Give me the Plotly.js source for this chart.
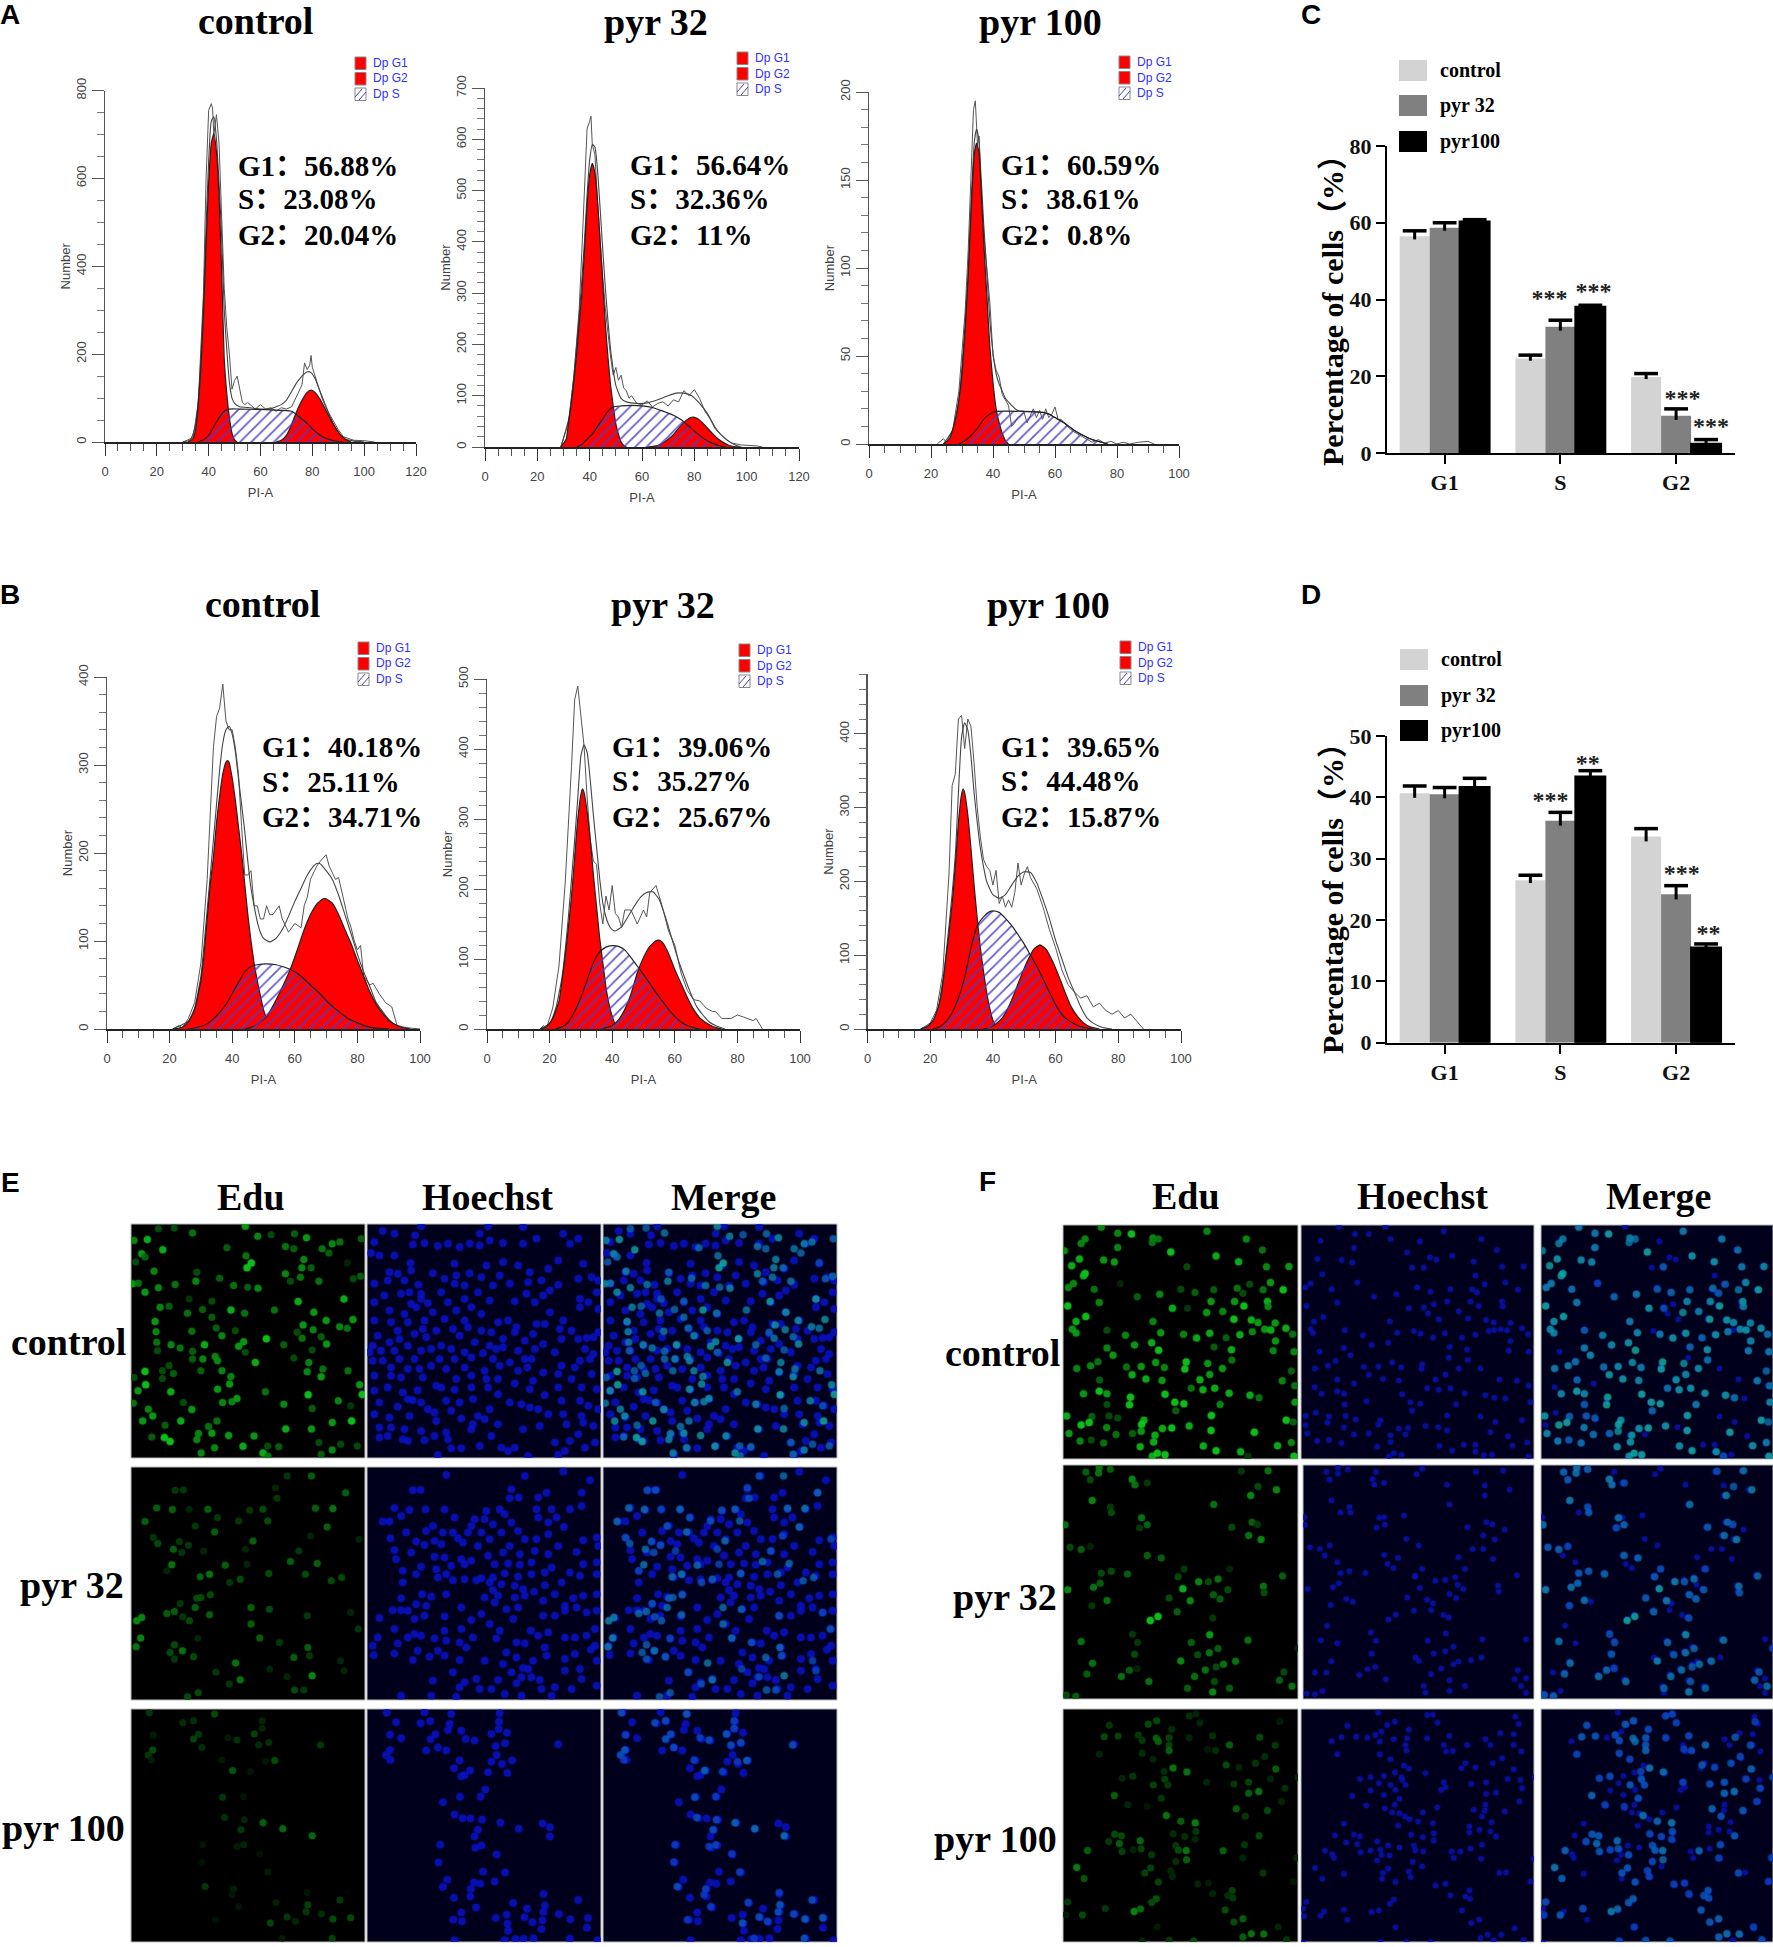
<!DOCTYPE html>
<html>
<head>
<meta charset="utf-8">
<script src="https://cdn.plot.ly/plotly-3.0.1.min.js"></script>
<style>html,body{margin:0;padding:0;background:#fff}</style>
</head>
<body>
<div id="chart" style="width:1773px;height:1947px"></div>
<script>
// ---- flow cytometry histograms, [PI-A, number] ----
var a1G1 = [[32,0],[34,8],[35,30],[36,85],[37,170],[38,290],[39,450],[40,590],[41,680],[42,702],[43,660],[44,560],[45,390],[46,190],[47,110],[48,55],[49,20],[50,5],[51,0]];
var a1G2 = [[66,0],[68,4],[70,15],[72,40],[74,70],[76,95],[78,113],[79.5,118],[81,113],[83,97],[85,75],[87,52],[89,32],[91,15],[93,5],[95,0]];
var a1S = [[36,0],[38,5],[40,15],[42,35],[44,55],[46,70],[48,75],[52,75],[60,74],[68,72],[72,70],[74,62],[76,52],[78,42],[80,30],[82,20],[84,12],[86,7],[88,3],[90,1],[92,0]];
var a1Fit = [[30,0],[33,5],[35,40],[36,95],[37,190],[38,320],[39,490],[40,640],[41,730],[42,740],[43,690],[44,590],[45,470],[46,300],[47,210],[48,135],[49,100],[50,88],[52,80],[56,78],[60,75],[64,76],[68,85],[70,95],[72,115],[74,135],[76,150],[78,160],[79.5,158],[81,145],[83,115],[85,85],[87,55],[89,30],[91,15],[93,6],[96,2],[100,0]];
var a1Raw = [[30,0],[34,10],[36,90],[38,340],[39,600],[40,755],[41,770],[41.5,760],[42,700],[43,745],[44,680],[45,520],[46,350],[47,260],[48,200],[49,120],[50,140],[51,150],[52,115],[53,90],[54,85],[55,90],[56,85],[58,75],[60,85],[62,75],[64,78],[66,70],[68,78],[70,75],[72,80],[74,105],[76,130],[77,180],[78,165],[79,175],[79.5,197],[80,170],[82,130],[84,95],[86,70],[88,50],[90,28],[92,12],[94,8],[96,4],[100,3],[102,2],[104,0]];

var a2G1 = [[29,0],[31,15],[32,50],[33,85],[34,130],[35,180],[36,240],[37,300],[38,380],[39,470],[40,530],[41,553],[42,535],[43,480],[44,400],[45,320],[46,240],[47,175],[48,120],[49,80],[50,45],[51,25],[52,10],[53,3],[54,0]];
var a2G2 = [[62,0],[66,3],[68,8],[70,15],[72,24],[74,37],[76,48],[78,56],[79,58],[81,56],[83,48],[85,37],[87,26],[89,16],[91,9],[93,4],[95,1],[97,0]];
var a2S = [[35,0],[37,5],[39,15],[41,25],[43,40],[45,55],[47,70],[49,78],[52,80],[56,81],[60,80],[64,77],[68,70],[72,62],[75,53],[78,40],[81,27],[84,15],[87,7],[90,2],[92,0]];
var a2Fit = [[29,0],[32,55],[34,140],[36,255],[38,400],[39,490],[40,560],[41,590],[42,585],[43,540],[44,465],[45,385],[46,310],[47,245],[48,190],[49,150],[50,120],[52,95],[54,88],[58,85],[62,86],[66,92],[70,100],[73,105],[76,105],[79,100],[82,85],[85,65],[88,38],[90,25],[93,12],[96,3],[98,0]];
var a2Raw = [[29,0],[32,50],[34,140],[36,270],[37,380],[38,500],[39,620],[40,635],[40.5,645],[41,590],[42,570],[43,480],[44,400],[45,330],[46,270],[47,220],[48,175],[49,140],[50,155],[51,130],[52,140],[53,115],[54,110],[55,95],[56,100],[58,85],[60,82],[62,90],[64,78],[66,85],[68,88],[70,80],[72,92],[74,88],[76,110],[78,100],[80,112],[82,95],[84,70],[86,55],[88,35],[90,25],[92,15],[94,8],[98,4],[104,2],[106,0]];

var a3G1 = [[24,0],[26,3],[27,8],[28,15],[29,25],[30,40],[31,65],[32,95],[33,135],[34,165],[34.7,171],[35.5,165],[36,150],[37,115],[38,85],[39,55],[40,35],[41,20],[42,12],[43,6],[44,2],[45,0]];
var a3G2 = [];
var a3S = [[29,0],[31,2],[33,5],[35,9],[37,14],[39,17],[41,18.5],[50,18.5],[56,18],[58,17],[60,15],[63,12],[66,8],[69,5],[72,2.5],[75,1],[77,0]];
var a3Fit = [[24,0],[27,8],[29,25],[31,68],[32,98],[33,140],[34,172],[34.7,179],[35.5,172],[36,157],[37,125],[38,98],[39,70],[40,52],[41,40],[42,34],[43,30],[44,26],[46,22],[48,19],[50,18.5],[56,18],[58,17],[60,15],[63,12],[66,8],[69,5],[72,2.5],[75,1],[77,0]];
var a3Raw = [[22,0],[24,3],[25,1],[27,8],[29,30],[31,75],[32,110],[33,160],[33.7,190],[34.3,195],[35,170],[35.5,175],[36,150],[37,120],[38,100],[39,80],[40,50],[41,42],[42,38],[43,28],[44,25],[45,22],[46,10],[47,12],[48,15],[49,16],[50,18],[51,12],[52,16],[53,20],[54,15],[55,19],[56,14],[57,20],[58,15],[59,17],[60,21],[61,14],[62,14],[64,10],[66,7],[68,5],[70,3],[72,1],[74,2.5],[76,0.5],[78,1.5],[80,0],[82,1],[84,0],[87,1],[90,1.5],[92,0]];

var b1G1 = [[21,0],[24,2],[26,8],[28,22],[30,55],[31,85],[32,125],[33,165],[34,195],[35,235],[36,265],[37,290],[38,303],[38.5,305],[39,303],[40,285],[41,260],[42,230],[43,200],[44,165],[45,130],[46,100],[47,75],[48,55],[49,38],[50,22],[51,12],[52,6],[53,2],[55,0]];
var b1G2 = [[44,0],[47,3],[49,8],[51,14],[53,26],[55,40],[57,55],[59,72],[61,92],[63,113],[65,130],[67,142],[69,148],[70,148],[72,143],[74,130],[76,113],[78,97],[80,78],[82,60],[84,42],[86,28],[88,18],[90,10],[92,5],[94,2],[97,0]];
var b1S = [[26,0],[29,2],[32,6],[35,15],[38,28],[40,40],[42,53],[44,65],[46,71],[48,73],[51,74],[54,73],[56,71],[59,67],[62,60],[65,50],[68,40],[71,29],[74,20],[77,12],[80,7],[83,3],[86,1],[90,0]];
var b1Fit = [[21,0],[26,9],[28,24],[30,60],[32,135],[34,215],[36,295],[37,325],[38,340],[39,344],[40,335],[41,315],[42,285],[43,255],[44,225],[45,190],[46,160],[47,140],[48,122],[49,110],[50,103],[52,99],[54,103],[56,113],[58,128],[60,145],[62,160],[64,175],[66,185],[67,188],[68,188],[70,180],[72,170],[74,152],[76,130],[78,108],[80,85],[82,65],[84,48],[86,30],[88,20],[90,11],[92,5],[95,2],[100,0]];
var b1Raw = [[21,0],[23,4],[24,1],[26,12],[28,30],[30,75],[32,170],[34,320],[35,355],[36,365],[37,392],[38,350],[39,340],[40,340],[41,320],[42,290],[43,230],[44,175],[45,175],[46,180],[47,140],[48,140],[49,125],[50,125],[51,140],[52,130],[53,130],[55,140],[56,125],[58,110],[60,120],[62,115],[63,140],[64,150],[65,170],[67,185],[68,190],[70,198],[71,185],[73,170],[74,172],[75,155],[76,142],[77,125],[78,115],[79,100],[80,90],[81,95],[82,60],[84,50],[85,52],[87,40],[89,30],[91,25],[93,0]];

var b2G1 = [[17,0],[19,3],[21,15],[23,40],[24,70],[25,105],[26,145],[27,190],[28,245],[29,300],[30,335],[30.5,343],[31,338],[32,310],[33,270],[34,220],[35,175],[36,130],[37,95],[38,60],[39,35],[40,18],[41,7],[42,2],[43,0]];
var b2G2 = [[36,0],[38,2],[40,5],[42,13],[44,28],[46,50],[48,80],[50,102],[52,118],[54,126],[55,127],[56,124],[58,108],[60,85],[62,65],[64,45],[66,28],[68,16],[70,9],[72,4],[75,0]];
var b2S = [[22,0],[24,3],[26,10],[28,25],[30,45],[32,70],[34,95],[36,110],[38,117],[40,119],[42,118],[44,113],[46,102],[48,90],[50,78],[52,65],[54,52],[56,40],[58,28],[60,18],[62,10],[64,5],[66,2],[68,0]];
var b2Fit = [[17,0],[20,8],[22,30],[24,75],[26,160],[28,270],[29,330],[30,390],[31,406],[32,395],[33,355],[34,305],[35,260],[36,215],[37,180],[38,160],[39,148],[40,142],[41,140],[43,146],[45,160],[47,175],[49,188],[51,195],[53,196],[55,185],[57,160],[59,130],[61,100],[63,75],[65,52],[67,32],[69,20],[71,10],[73,5],[76,0]];
var b2Raw = [[17,0],[18,5],[19,1],[21,30],[23,90],[25,210],[27,375],[28,470],[29,490],[30,450],[31,405],[32,330],[33,270],[34,240],[35,235],[36,180],[37,150],[38,190],[39,170],[40,205],[41,165],[42,160],[43,145],[44,170],[46,170],[48,150],[50,170],[51,160],[52,195],[54,205],[55,190],[56,175],[58,140],[60,120],[62,80],[64,55],[66,42],[68,40],[70,30],[72,25],[73,25],[75,15],[78,15],[80,20],[82,17],[85,12],[86,15],[88,0]];

var b3G1 = [[17,0],[19,3],[21,12],[23,35],[24,60],[25,95],[26,130],[27,170],[28,220],[29,280],[30,318],[30.5,325],[31,320],[32,290],[33,245],[34,195],[35,150],[36,110],[37,78],[38,50],[39,28],[40,12],[41,4],[42,0]];
var b3G2 = [[37,0],[39,2],[41,7],[43,15],[45,30],[47,50],[49,72],[51,92],[53,108],[55,114],[57,108],[59,92],[61,72],[63,50],[65,30],[67,17],[69,8],[71,3],[74,0]];
var b3S = [[21,0],[23,3],[25,10],[27,22],[29,42],[31,70],[33,110],[35,140],[37,152],[39,159],[40,160],[42,158],[44,150],[46,140],[48,128],[50,115],[52,100],[54,85],[56,68],[58,50],[60,33],[62,20],[64,12],[66,7],[68,3],[72,0]];
var b3Fit = [[17,0],[20,6],[22,20],[24,65],[26,140],[28,235],[29,320],[30,395],[31,415],[32,405],[33,370],[34,320],[35,280],[36,245],[37,220],[38,200],[39,190],[40,182],[42,177],[44,182],[46,195],[48,207],[50,213],[52,212],[54,198],[56,175],[58,150],[60,120],[62,95],[64,70],[66,50],[68,30],[70,15],[72,8],[75,2],[78,0]];
var b3Raw = [[17,0],[20,8],[22,25],[24,75],[26,210],[27,330],[28,345],[29,420],[30,425],[31,380],[32,420],[33,410],[34,360],[35,300],[36,260],[37,230],[38,220],[39,215],[40,195],[41,215],[42,170],[43,180],[44,165],[45,175],[46,165],[47,185],[48,225],[49,195],[50,210],[51,220],[52,205],[54,190],[56,165],[58,135],[60,110],[62,80],[64,60],[66,50],[68,42],[70,45],[72,30],[74,35],[76,25],[78,20],[80,25],[82,15],[84,20],[86,10],[88,0]];

var peakMarksA1 = [[41,-17],[79,-17]];
var peakMarksA2 = [[41,-16]];
var peakMarksA3 = [[34,-4]];

// ---- bar charts ----
var phaseNames = ["G1", "S", "G2"];
var phasePositions = [0, 1, 2];
var groupNames = ["control", "pyr 32", "pyr100"];
var cControl = [56.5, 24.6, 19.8];
var cPyr32 = [58.7, 32.9, 9.7];
var cPyr100 = [60.3, 38.1, 2.4];
var cControlErr = [1.4, 0.9, 0.9];
var cPyr32Err = [1.3, 1.7, 1.8];
var cPyr100Err = [0.5, 0.4, 1.1];
var cStarsX = [0.906, 1.286, 2.055, 2.302];
var cStarsY = [39.9, 41.6, 13.8, 6.4];
var cStarsText = ["***", "***", "***", "***"];
var dControl = [40.65, 26.5, 33.6];
var dPyr32 = [40.5, 36.2, 24.2];
var dPyr100 = [41.7, 43.4, 15.5];
var dControlErr = [1.2, 0.8, 1.3];
var dPyr32Err = [1.1, 1.35, 1.4];
var dPyr100Err = [1.4, 0.95, 0.6];
var dStarsX = [0.915, 1.237, 2.049, 2.279];
var dStarsY = [39.2, 45.2, 27.3, 17.6];
var dStarsText = ["***", "**", "***", "**"];

// ---- microscopy fields, nuclei as [x, y, intensity] in crop units (700 = panel width) ----
var eEdu1 = [[12,50,.7],[52,47,.9],[85,15,.4],[132,13,.4],[187,28,.6],[345,8,.8],[382,38,.7],[422,33,.4],[492,30,.5],[528,42,.8],[465,68,.6],[490,75,.5],[575,75,.6],[605,60,.7],[628,55,.6],[692,45,.5],[595,88,.5],[35,90,.8],[98,78,.9],[45,100,.5],[17,115,.4],[72,142,.7],[290,72,.5],[347,96,.6],[350,132,1],[363,118,1],[520,107,.7],[514,132,.7],[542,132,.5],[465,150,.7],[510,160,.6],[650,117,.2],[690,157,.5],[668,165,.4],[8,180,.8],[25,178,.6],[85,192,.7],[135,182,.6],[197,172,.7],[200,145,.4],[268,163,.5],[310,185,.6],[352,190,.5],[383,193,.7],[480,172,.4],[565,172,.6],[45,205,.8],[640,225,.9],[503,233,.9],[245,232,.4],[177,225,.3],[90,250,.7],[117,247,.5],[172,268,.6],[217,257,.5],[302,258,.9],[343,268,.6],[432,258,.6],[550,265,.8],[245,280,.5],[75,293,.8],[587,290,.8],[667,287,.8],[518,303,.8],[548,317,.7],[627,308,.7],[650,313,.6],[78,323,.7],[185,322,.6],[258,312,.5],[315,320,.4],[408,344,1],[275,335,.7],[340,353,.8],[325,367,.8],[500,325,.4],[515,343,.6],[572,338,.5],[588,360,.8],[80,355,.6],[123,362,.7],[150,372,.6],[223,362,.9],[460,362,.5],[345,385,.4],[187,382,.5],[82,380,.4],[255,397,.7],[262,410,.7],[218,405,.7],[187,405,.5],[375,415,.9],[490,402,.4],[535,415,.7],[545,378,.4],[45,442,1],[97,440,.4],[130,448,.5],[117,424,.4],[212,440,.5],[275,440,.7],[530,443,.7],[577,435,.6],[652,440,.6],[572,458,.8],[97,463,.4],[302,457,.7],[298,480,.8],[47,482,1],[12,460,.4],[687,482,.8],[262,495,.8],[24,500,.8],[122,503,.9],[405,503,.6],[533,512,1],[695,511,1],[320,523,.8],[305,533,.7],[277,535,.7],[623,530,.7],[10,537,.6],[460,540,.7],[160,535,.4],[660,545,.3],[55,555,.7],[185,556,.8],[545,553,.5],[68,575,.8],[260,590,.6],[38,590,.8],[152,590,.9],[105,603,.5],[605,595,.8],[663,590,1],[466,614,.9],[543,614,.8],[235,607,.6],[205,628,.7],[245,627,.8],[295,634,.8],[371,635,.8],[65,638,.5],[103,640,1],[120,652,1],[200,646,.7],[253,670,.7],[338,666,.9],[605,677,.7],[412,665,.4],[445,667,.5],[565,655,.4],[630,660,.4],[213,686,.7],[398,686,.9],[413,695,.6],[572,690,.5],[680,665,.4]];
var eHoechst1 = [[755,22],[790,30],[852,35],[845,62],[880,58],[920,67],[950,60],[985,70],[1015,60],[1045,65],[1075,50],[1115,58],[1175,60],[1215,45],[1295,30],[1315,60],[1340,45],[1045,30],[870,8],[1070,8],[1175,10],[730,55],[720,88],[745,95],[790,95],[838,118],[840,140],[905,148],[970,120],[1015,148],[1065,125],[1115,115],[1160,125],[1195,145],[1250,135],[1280,110],[1355,120],[775,145],[800,150],[730,180],[770,170],[862,183],[820,170],[940,165],[975,155],[1050,160],[1105,155],[1190,175],[1230,170],[1280,183],[1340,165],[1380,160],[1400,170],[760,215],[810,210],[835,205],[870,210],[930,205],[970,180],[1000,185],[1040,205],[1085,185],[1135,180],[1185,210],[1255,200],[1345,225],[1395,205],[840,240],[855,250],[890,238],[870,225],[730,235],[950,235],[1000,225],[1075,230],[1150,232],[1210,235],[1235,215],[1345,250],[1370,235],[1400,255],[775,260],[820,270],[905,265],[975,260],[1020,250],[1050,270],[1100,295],[1130,290],[1255,265],[1295,290],[730,290],[780,295],[830,295],[880,290],[940,285],[1000,290],[1155,310],[1215,300],[1240,300],[1285,315],[1320,320],[740,335],[800,320],[850,330],[875,315],[915,320],[965,315],[1010,310],[1050,320],[1080,325],[1115,345],[1150,325],[1205,330],[1340,345],[1385,340],[1365,342],[725,365],[775,355],[805,345],[830,365],[885,340],[930,365],[985,335],[1030,355],[1075,365],[1115,370],[1180,350],[1235,360],[1290,345],[1400,325],[715,385],[750,380],[790,380],[870,380],[900,375],[960,375],[1000,385],[1055,388],[1095,375],[1160,380],[1210,375],[1270,385],[1360,375],[1385,390],[725,410],[755,410],[805,405],[850,405],[925,405],[970,405],[1020,400],[1085,405],[1135,415],[1180,405],[1200,405],[1290,425],[1345,410],[1375,405],[780,430],[830,435],[865,435],[900,425],[945,435],[1000,430],[1060,440],[1105,425],[1160,440],[1188,430],[1235,445],[1330,430],[730,455],[780,455],[810,460],[875,460],[915,485],[975,465],[1020,455],[1065,465],[1100,465],[1150,478],[1205,470],[1280,450],[1320,465],[1380,450],[730,500],[770,490],[860,498],[815,505],[830,525],[930,490],[970,497],[1020,490],[1070,490],[1100,510],[1240,513],[1195,495],[1280,490],[1350,490],[1395,495],[745,535],[800,548],[845,528],[870,535],[890,555],[945,530],[985,535],[1025,525],[1075,555],[1135,535],[1170,540],[1290,530],[1345,530],[1370,545],[730,570],[775,580],[835,575],[910,565],[960,560],[1040,575],[1195,550],[1220,555],[1250,570],[1295,570],[1350,575],[1400,555],[745,610],[780,610],[820,615],[870,620],[915,590],[945,625],[990,583],[1025,600],[1060,585],[1100,600],[1225,605],[1175,615],[1305,600],[1355,595],[1385,605],[745,640],[770,635],[815,645],[880,648],[910,635],[950,645],[1020,615],[1080,635],[1270,655],[1315,650],[1340,630],[1390,655],[830,650],[920,692],[1045,665],[1110,670],[1130,680],[1150,670],[1190,695],[1280,692],[990,672],[960,672],[1360,670],[1300,680]];
var eEdu2 = [[543,755,.5],[470,755,.3],[135,798,.3],[160,797,.3],[645,805,.5],[435,790,.2],[440,822,.3],[80,851,.5],[127,856,.5],[177,855,.2],[233,855,.5],[358,858,.3],[398,855,.4],[555,852,.5],[607,853,.6],[262,880,.3],[45,892,.5],[325,890,.3],[412,890,.4],[590,908,.5],[195,905,.3],[253,923,.5],[540,935,.2],[70,940,.3],[83,958,.4],[148,952,.3],[175,963,.3],[368,950,.5],[685,945,.2],[130,975,.5],[155,985,.3],[220,980,.2],[505,980,.3],[345,975,.2],[480,1012,.5],[560,1018,.5],[125,1022,.6],[285,1023,.5],[350,1020,.2],[210,1058,.5],[238,1050,.6],[415,1048,.4],[525,1050,.4],[633,1060,.4],[330,1065,.4],[298,1075,.3],[602,1070,.4],[110,1040,.2],[200,1122,.4],[212,1120,.4],[240,1112,.4],[150,1138,.3],[195,1150,.5],[110,1168,.5],[133,1162,.5],[238,1172,.5],[362,1150,.5],[417,1155,.4],[158,1178,.3],[178,1190,.4],[35,1180,.7],[20,1190,.7],[362,1200,.5],[660,1165,.2],[530,1175,.3],[683,1215,.3],[32,1242,.7],[388,1242,.5],[447,1255,.3],[203,1243,.2],[18,1268,.6],[133,1262,.4],[157,1280,.6],[120,1285,.4],[190,1298,.4],[133,1305,.3],[532,1270,.5],[490,1300,.5],[537,1295,.3],[316,1317,.6],[630,1310,.2],[257,1345,.3],[330,1367,.6],[418,1335,.2],[545,1355,.7],[640,1340,.2],[470,1358,.2],[297,1380,.3],[172,1418,.4],[204,1406,.4],[492,1398,.4],[520,1398,.3]];
var eHoechst2 = [[945,752],[1180,755],[1245,805],[1295,742],[1375,768],[845,798],[868,797],[1140,795],[1135,822],[1162,820],[1220,820],[1350,805],[790,851],[835,857],[883,856],[940,856],[1065,860],[1105,856],[1215,855],[1260,855],[1315,855],[1350,845],[755,892],[775,892],[810,875],[970,880],[1030,885],[1060,885],[1120,870],[1220,880],[1275,880],[905,905],[885,920],[1020,905],[1085,900],[1140,895],[1250,895],[1297,908],[825,925],[935,925],[965,925],[1010,925],[1050,925],[1110,925],[1160,920],[1250,930],[778,942],[855,952],[980,942],[1075,945],[1180,945],[1215,945],[1355,948],[1395,940],[790,978],[880,962],[910,950],[930,960],[995,955],[1040,965],[1135,965],[1280,965],[1400,965],[840,985],[795,1005],[910,998],[940,1000],[990,1005],[1070,995],[1115,985],[1165,990],[1210,980],[1250,990],[1335,983],[1020,1010],[870,1028],[915,1035],[960,1025],[1000,1020],[1090,1020],[1130,1018],[1165,1022],[1200,1015],[1260,1030],[1355,1020],[1395,1015],[815,1040],[855,1050],[920,1060],[945,1050],[1050,1062],[1035,1068],[1085,1060],[1120,1048],[1160,1058],[1200,1050],[1240,1045],[1315,1045],[1345,1055],[1395,1050],[815,1075],[965,1068],[1000,1065],[1075,1075],[1110,1080],[1150,1085],[1240,1083],[1290,1075],[1085,1098],[1175,1095],[1208,1103],[1270,1110],[810,1122],[873,1110],[900,1118],[945,1110],[1060,1120],[1100,1115],[1150,1120],[1180,1115],[1325,1122],[1355,1115],[1395,1110],[855,1140],[885,1145],[990,1150],[1090,1135],[1125,1155],[1160,1150],[1235,1130],[1300,1145],[1335,1150],[745,1182],[785,1158],[810,1158],[830,1160],[850,1185],[880,1175],[940,1177],[1020,1188],[1050,1170],[1145,1185],[1235,1175],[1270,1175],[1300,1160],[1365,1165],[1395,1160],[790,1215],[850,1230],[940,1220],[990,1215],[1075,1200],[1105,1220],[1198,1220],[1250,1225],[1390,1215],[740,1240],[830,1240],[870,1235],[910,1243],[945,1250],[1025,1240],[1095,1243],[1155,1255],[1220,1235],[1300,1240],[1330,1240],[1365,1235],[800,1258],[985,1255],[1180,1258],[725,1265],[860,1280],[920,1280],[1005,1270],[1125,1285],[1240,1270],[1390,1265],[1378,1277],[728,1293],[790,1288],[895,1298],[940,1295],[1155,1300],[1245,1295],[1330,1290],[1300,1305],[845,1308],[985,1308],[1060,1310],[1115,1320],[1205,1310],[1395,1310],[1175,1332],[1300,1340],[965,1345],[1035,1365],[1140,1345],[1190,1335],[1345,1335],[905,1370],[1000,1375],[1100,1368],[1170,1360],[1200,1360],[1225,1368],[1350,1365],[985,1390],[1045,1395],[1080,1395],[1155,1378],[1230,1395],[1270,1390],[1320,1395],[1395,1385],[810,1415],[900,1415],[975,1418],[1120,1410],[1170,1415],[1260,1415]];
var eEdu3 = [[58,38,.3],[158,68,.25],[190,62,.25],[253,42,.4],[395,62,.2],[395,85,.2],[70,105,.15],[205,103,.3],[190,117,.35],[293,113,.15],[320,120,.25],[372,102,.35],[385,135,.25],[415,128,.25],[570,135,.3],[215,143,.25],[68,150,.4],[55,165,.3],[65,180,.15],[275,180,.15],[433,182,.4],[405,185,.12],[307,212,.45],[360,215,.12],[277,292,.3],[340,290,.12],[283,353,.25],[342,360,.2],[398,369,.5],[332,390,.3],[457,387,.55],[545,408,.55],[340,435,.2],[320,440,.15],[218,435,.12],[388,462,.1],[215,487,.1],[412,517,.15],[225,560,.3],[310,568,.18],[305,585,.12],[530,578,.12],[437,608,.18],[532,615,.35],[628,601,.3],[325,620,.12],[527,636,.3],[470,652,.3],[573,643,.25],[607,658,.4],[660,654,.4],[420,670,.35],[495,665,.2],[255,660,.1],[605,716,.35],[455,716,.15]];
var eHoechst3 = [[767,38],[795,67],[880,37],[868,70],[897,64],[960,42],[955,72],[950,90],[777,104],[810,115],[913,103],[898,118],[990,92],[1003,117],[1030,122],[1105,40],[1103,65],[1102,87],[1080,102],[1127,98],[1121,130],[1093,138],[1280,133],[777,150],[765,165],[778,180],[920,143],[945,152],[885,152],[1096,165],[1080,185],[1112,192],[1142,182],[985,182],[968,205],[1016,212],[1070,217],[1128,219],[990,229],[1000,225],[1062,269],[986,291],[1048,291],[935,307],[970,344],[994,355],[1018,356],[1052,360],[1107,369],[1162,387],[1233,371],[1255,382],[1255,410],[1040,390],[1030,410],[927,435],[1032,444],[1050,437],[1096,464],[922,488],[1055,516],[1121,518],[1090,545],[948,540],[1028,548],[1047,552],[935,562],[1018,568],[1017,590],[968,594],[1236,583],[1240,617],[1340,601],[1145,610],[1034,623],[1187,627],[1236,637],[990,638],[1126,645],[1093,655],[1179,653],[1282,643],[1203,668],[1233,662],[1316,659],[1369,655],[966,660],[992,665],[1128,672],[1130,693],[1230,688],[1366,684],[970,722],[1120,722],[1152,718],[1176,717],[1206,716],[1315,717],[1398,722]];

var fEdu1 = [[118,10,.7],[70,45,.7],[58,58,.7],[167,28,.7],[208,30,1],[272,42,.7],[288,45,.6],[270,55,.6],[433,22,.7],[550,45,.7],[167,70,.7],[325,84,1],[598,78,.6],[8,80,.7],[53,105,.9],[125,108,.8],[157,114,.8],[30,125,.9],[460,96,.9],[527,113,.9],[610,128,.7],[677,127,.8],[373,128,.4],[70,148,1],[65,155,.9],[35,178,.7],[20,190,.7],[97,195,.6],[175,178,.2],[523,192,.6],[560,180,.4],[622,175,.8],[355,195,.4],[397,205,.5],[453,197,.5],[600,197,.6],[660,197,1],[540,207,.4],[292,210,.7],[112,235,.7],[225,218,.5],[18,245,1],[445,232,.8],[515,232,.8],[543,245,1],[613,232,.9],[615,247,.7],[330,252,.9],[72,277,1],[375,252,.3],[432,265,.8],[480,262,.7],[513,285,1],[565,287,.9],[43,292,.9],[272,292,.7],[585,295,.8],[636,296,.8],[32,315,.8],[43,326,.8],[135,318,.4],[668,312,.9],[605,315,.8],[623,317,.9],[295,325,.8],[190,333,.7],[363,330,.7],[402,341,.9],[441,327,.9],[531,331,.9],[568,322,.7],[490,340,.5],[688,330,.6],[637,350,.8],[217,362,.8],[268,355,.9],[135,371,.7],[289,378,1],[454,368,.5],[506,376,.9],[630,379,.7],[692,382,.7],[153,393,.8],[108,412,.6],[45,432,.7],[86,424,.7],[193,428,.6],[237,426,.8],[280,414,.8],[306,429,.7],[371,413,1],[367,434,1],[435,417,.8],[507,407,.6],[479,432,.8],[684,440,.5],[210,451,.9],[251,464,.9],[441,450,.8],[412,466,.9],[299,468,.8],[113,467,.5],[657,469,.7],[694,484,.6],[112,500,1],[135,508,.8],[65,508,.8],[386,491,.6],[421,496,.9],[456,491,.9],[308,509,1],[499,506,.9],[561,512,.9],[588,520,.6],[205,518,1],[202,541,1],[135,540,.4],[337,533,1],[364,538,1],[472,540,.7],[695,533,.8],[340,559,.5],[15,574,.9],[90,576,.5],[141,574,.4],[167,580,.4],[446,573,1],[58,601,1],[82,594,1],[245,587,.9],[238,600,1],[669,587,1],[690,592,.5],[134,609,.7],[300,612,.9],[328,610,1],[380,604,.9],[237,620,.8],[445,618,1],[162,630,.6],[211,627,.5],[22,627,.8],[278,632,.9],[574,623,1],[55,649,.7],[88,646,.4],[125,655,.6],[274,652,.9],[234,666,.9],[422,664,.9],[643,663,.9],[684,654,.7],[460,678,1],[533,681,.9],[270,695,.9],[285,686,1],[308,690,1],[692,695,1],[555,695,.3]];
var fHoechst1 = [[830,8],[970,8],[878,30],[920,30],[985,45],[775,50],[1073,52],[1145,22],[1258,45],[875,72],[1035,85],[1305,78],[1103,100],[1123,107],[765,105],[838,108],[870,115],[1170,95],[1235,113],[1320,128],[1385,127],[1085,130],[1050,130],[780,150],[1240,155],[885,175],[745,178],[730,190],[808,195],[1065,190],[1105,203],[1165,195],[1230,195],[1245,205],[1268,180],[1330,175],[1368,197],[935,218],[1003,210],[825,235],[733,245],[1040,252],[1085,250],[1115,240],[1155,232],[1225,232],[1250,245],[1320,232],[1322,247],[783,278],[1098,268],[1130,285],[1190,262],[1218,283],[755,292],[983,292],[1272,287],[1295,295],[1345,296],[745,315],[752,326],[848,318],[1005,325],[1055,320],[1075,328],[1280,320],[1296,317],[1316,315],[1335,318],[1380,312],[902,333],[1113,340],[1148,327],[1200,340],[1240,331],[1398,330],[928,362],[978,355],[1345,350],[845,371],[772,382],[1163,368],[1215,376],[1340,379],[1400,382],[820,410],[865,393],[758,432],[797,424],[905,428],[948,426],[990,414],[1017,429],[1080,420],[1078,434],[1160,400],[1217,407],[1190,432],[1255,432],[920,451],[962,464],[1150,450],[1120,466],[825,465],[1010,468],[1312,465],[1365,469],[1400,484],[757,488],[825,500],[845,508],[778,508],[875,478],[1095,491],[1130,496],[1165,491],[1020,509],[1208,506],[1270,512],[1297,520],[913,530],[847,540],[1045,533],[1075,538],[1182,540],[1330,522],[1405,533],[1050,559],[730,574],[800,576],[760,565],[850,574],[880,585],[1155,573],[1255,576],[730,601],[795,594],[955,587],[948,600],[1380,587],[1300,592],[845,609],[1010,612],[1038,610],[1090,604],[1128,608],[1155,618],[875,630],[920,627],[735,627],[985,632],[1285,623],[1030,630],[1338,635],[765,649],[800,646],[838,655],[985,652],[945,666],[1132,664],[1205,660],[1240,660],[1352,663],[1395,654],[1170,678],[1240,681],[980,695],[995,686],[1018,690],[1265,692],[1290,690],[1400,695]];
var fEdu2 = [[72,745,.5],[112,732,.6],[145,737,.5],[110,748,.6],[85,768,.4],[210,767,.7],[218,783,.6],[255,778,.3],[535,743,.3],[615,741,.6],[585,788,.4],[640,798,.7],[563,815,.7],[91,830,.7],[453,842,.6],[145,850,.3],[148,866,.4],[238,882,.6],[255,903,.5],[232,912,.3],[10,903,.6],[507,910,.4],[567,895,.5],[583,902,.3],[557,935,.6],[594,947,.7],[25,970,.4],[58,977,.5],[85,968,.2],[255,995,.5],[297,1002,.5],[365,1035,.3],[500,1035,.2],[118,1048,.4],[148,1042,.4],[196,1050,.5],[347,1058,.4],[658,1056,.5],[408,1073,.7],[437,1073,.4],[466,1065,.6],[115,1078,.5],[95,1090,.6],[18,1097,.7],[361,1094,.9],[495,1097,.4],[601,1087,.6],[452,1112,.5],[603,1106,.4],[135,1129,.6],[320,1122,.4],[383,1130,.7],[472,1125,.5],[90,1145,.3],[344,1163,.5],[287,1177,1],[264,1189,1],[450,1182,.3],[441,1232,.8],[211,1230,.3],[58,1252,.6],[226,1255,.3],[386,1255,.5],[555,1248,.6],[466,1273,.5],[703,1272,.2],[217,1290,.4],[440,1286,.6],[405,1292,.4],[355,1310,.7],[518,1311,.6],[92,1317,.6],[460,1328,.4],[482,1320,.6],[428,1337,.6],[202,1338,.5],[225,1333,.2],[75,1349,.5],[178,1357,.6],[396,1357,.6],[662,1343,.4],[260,1372,.6],[649,1368,.5],[455,1372,.4],[686,1386,.6],[375,1392,.5],[450,1403,.7],[500,1392,.5],[42,1416,.5],[14,1412,.4]];
var fHoechst2 = [[795,745],[830,732],[860,737],[830,750],[805,768],[935,767],[940,783],[970,778],[945,745],[1068,752],[1085,735],[1160,783],[1248,745],[1330,741],[1275,785],[1350,798],[1275,815],[810,830],[1168,842],[865,850],[838,866],[868,866],[955,882],[970,880],[972,903],[947,912],[728,880],[730,903],[1030,875],[1222,910],[1280,895],[1298,902],[1270,935],[1305,947],[1335,918],[745,970],[775,975],[805,965],[790,995],[970,993],[1012,1002],[1037,945],[1075,965],[1195,1000],[1238,975],[1270,975],[828,1015],[1300,1005],[980,1020],[998,1032],[1215,1035],[1085,1035],[838,1048],[865,1042],[913,1047],[1065,1055],[1063,1058],[1372,1054],[1125,1070],[1155,1068],[1185,1060],[833,1078],[815,1090],[738,1095],[1078,1092],[1193,1082],[1210,1095],[1315,1085],[1168,1110],[1317,1103],[855,1125],[875,1133],[1040,1120],[1100,1127],[1188,1122],[808,1143],[1118,1138],[1112,1158],[1060,1160],[1005,1172],[983,1186],[1150,1173],[1165,1180],[797,1205],[1157,1228],[930,1225],[778,1248],[945,1250],[828,1257],[1102,1250],[1268,1245],[1400,1245],[1180,1268],[932,1288],[1155,1282],[1120,1288],[1065,1300],[1075,1310],[1233,1308],[1265,1300],[810,1311],[1180,1320],[1195,1312],[1143,1333],[920,1335],[943,1328],[760,1345],[795,1345],[895,1352],[1112,1350],[1375,1338],[975,1365],[1365,1365],[1168,1368],[1400,1362],[1090,1385],[1168,1400],[1215,1385],[1385,1385],[760,1410],[735,1408],[783,1400],[1095,1405],[1400,1405]];
var fEdu3 = [[142,76,.3],[127,110,.4],[168,108,.35],[112,163,.2],[228,105,.3],[240,122,.3],[258,73,.4],[283,62,.4],[380,48,.25],[400,42,.2],[412,68,.2],[328,88,.25],[320,113,.35],[282,115,.5],[288,125,.5],[380,113,.2],[320,135,.35],[320,152,.5],[450,107,.25],[500,135,.5],[590,112,.4],[636,136,.3],[650,65,.15],[240,160,.25],[272,178,.2],[458,152,.25],[435,148,.15],[605,170,.25],[577,190,.3],[490,195,.4],[528,202,.2],[638,207,.5],[332,204,.6],[373,216,.6],[305,215,.25],[180,235,.2],[212,229,.3],[307,238,.35],[432,247,.2],[273,255,.35],[316,255,.3],[513,252,.3],[557,247,.35],[622,237,.2],[665,265,.25],[704,232,.2],[157,287,.5],[297,295,.3],[557,280,.5],[587,275,.6],[655,305,.2],[197,315,.2],[255,320,.12],[520,327,.5],[613,332,.4],[312,347,.6],[355,364,.5],[398,369,.65],[547,349,.3],[158,403,.4],[178,408,.4],[140,425,.3],[172,431,.5],[234,423,.55],[332,402,.25],[367,410,.25],[400,395,.3],[398,418,.2],[588,408,.4],[545,435,.3],[340,437,.3],[348,451,.4],[371,452,.6],[237,447,.35],[213,450,.2],[180,455,.35],[77,452,.5],[481,453,.5],[268,465,.3],[372,480,.5],[340,485,.25],[540,475,.2],[700,474,.2],[45,503,.65],[265,505,.35],[248,520,.35],[325,513,.2],[600,520,.3],[67,536,.45],[330,530,.2],[288,547,.35],[690,545,.12],[405,553,.2],[437,550,.15],[450,582,.2],[508,572,.35],[495,587,.25],[510,595,.3],[18,607,.3],[282,597,.45],[268,608,.4],[130,626,.3],[216,635,.7],[235,628,.55],[487,631,.4],[62,646,.4],[13,645,.15],[540,657,.5],[513,667,.4],[285,682,.15],[645,682,.2],[565,702,.6],[540,712,.5],[602,703,.6],[670,720,.3],[393,724,.4],[320,722,.3],[240,724,.2]];
var fHoechst3 = [[948,38],[1095,45],[1112,44],[1126,68],[855,77],[975,75],[998,65],[1360,50],[1370,72],[1040,89],[958,95],[808,124],[838,112],[882,110],[915,113],[940,105],[953,125],[995,118],[1035,115],[1095,115],[1162,108],[1215,135],[1270,118],[1315,100],[1285,135],[1355,103],[1030,135],[1033,152],[1145,135],[1152,155],[1172,153],[1355,135],[1378,155],[825,163],[953,163],[985,178],[1040,206],[1025,197],[1090,220],[1210,190],[1198,205],[1240,203],[1292,190],[1320,175],[1355,208],[998,218],[1018,232],[893,237],[925,232],[965,228],[950,250],[1020,240],[985,255],[1000,270],[1030,255],[1145,247],[1150,262],[1137,270],[1228,252],[1272,248],[1337,237],[1375,240],[1380,265],[1418,232],[925,272],[965,285],[870,288],[1012,297],[1272,282],[1302,278],[912,317],[968,325],[998,315],[1125,323],[1270,315],[1372,305],[990,338],[1012,340],[1028,350],[1042,358],[1068,365],[1082,338],[1235,330],[1268,332],[1328,335],[1260,350],[845,372],[1008,378],[1112,370],[1288,367],[1222,380],[1222,398],[1252,390],[1285,395],[1302,410],[818,407],[875,405],[893,410],[852,428],[885,433],[945,425],[1047,405],[1082,412],[1115,400],[1115,422],[1260,435],[978,437],[1012,443],[788,453],[895,457],[925,452],[955,450],[1055,437],[1060,452],[1083,455],[1195,455],[1225,447],[1168,455],[810,463],[815,475],[958,466],[982,467],[945,482],[1052,487],[1080,500],[1175,475],[1257,477],[1415,477],[758,505],[978,507],[1040,515],[962,520],[845,522],[1312,520],[1332,518],[780,537],[960,537],[1045,532],[1000,547],[1405,545],[1120,557],[1150,552],[1165,587],[1222,572],[1210,590],[1224,597],[732,607],[995,600],[983,612],[722,627],[845,630],[785,635],[928,637],[950,632],[1200,632],[775,648],[725,650],[855,660],[1252,660],[1228,670],[1000,683],[1358,686],[1255,715],[1277,705],[1295,722],[1318,705],[1385,722],[955,727],[1033,727],[1105,727],[722,730]];

// ---- labels ----
var histTitles = ["control", "pyr 32", "pyr 100", "control", "pyr 32", "pyr 100"];
var statsG1 = ["G1：56.88%", "G1：56.64%", "G1：60.59%", "G1：40.18%", "G1：39.06%", "G1：39.65%"];
var statsS = ["S：23.08%", "S：32.36%", "S：38.61%", "S：25.11%", "S：35.27%", "S：44.48%"];
var statsG2 = ["G2：20.04%", "G2：11%", "G2：0.8%", "G2：34.71%", "G2：25.67%", "G2：15.87%"];
var legendNames = ["Dp G1", "Dp G2", "Dp S"];
var channelNames = ["Edu", "Hoechst", "Merge"];
var rowNames = ["control", "pyr 32", "pyr 100"];
var percentTitle = "Percentage of cells（%）";

var W = 1773, H = 1947;
var BAR_GAP = 0.223;
var SERIF = "Liberation Serif, Noto Sans CJK SC, serif";
var SANS = "Liberation Sans, Arial, sans-serif";

var traces = [], shapes = [], annotations = [];
var layout = {
    width: W, height: H, margin: {l: 0, r: 0, t: 0, b: 0},
    paper_bgcolor: "#fff", plot_bgcolor: "rgba(0,0,0,0)",
    showlegend: false, barmode: "group", bargap: BAR_GAP, bargroupgap: 0
};
var axisCount = 0;

function xDomain(a, b) { return [a / W, b / W]; }
function yDomain(a, b) { return [1 - b / H, 1 - a / H]; }
function firstOf(rows) { return rows.map(function (r) { return r[0]; }); }
function secondOf(rows) { return rows.map(function (r) { return r[1]; }); }

function label(text, x, y, size, opts)
{
    opts = opts || {};
    annotations.push({
        text: opts.plain ? text : "<b>" + text + "</b>",
        xref: "paper", yref: "paper", x: x / W, y: 1 - y / H,
        xanchor: opts.anchor || "center", yanchor: "middle", showarrow: false, textangle: opts.angle || 0,
        font: {family: opts.family || SERIF, size: size, color: opts.color || "#000"}
    });
}

function newAxes(x0, x1, y0, y1, xOpts, yOpts)
{
    axisCount++;
    var xa = "x" + axisCount, ya = "y" + axisCount;
    layout["xaxis" + axisCount] = Object.assign({domain: xDomain(x0, x1), anchor: ya, zeroline: false, showgrid: false, fixedrange: true}, xOpts);
    layout["yaxis" + axisCount] = Object.assign({domain: yDomain(y0, y1), anchor: xa, zeroline: false, showgrid: false, fixedrange: true}, yOpts);
    return {x: xa, y: ya};
}

function histogram(p)
{
    var axisFont = {family: SANS, size: 13, color: "#444"};
    var ax = newAxes(p.box[0], p.box[1], p.box[2], p.box[3],
        {range: [0, p.xMax], tickmode: "linear", tick0: 0, dtick: 20, ticks: "outside", ticklen: 12, tickcolor: "#333", ticklabelstandoff: 4,
            minor: {dtick: 5, ticks: "outside", ticklen: 7, tickcolor: "#555"},
            showline: true, linecolor: "#222", linewidth: 2, tickfont: axisFont,
            title: {text: "PI-A", font: axisFont, standoff: 10}},
        {range: [0, p.yMax], tickmode: "linear", tick0: 0, dtick: p.yMajor, ticks: "outside", ticklen: 12, tickcolor: "#555", tickangle: -90,
            minor: {dtick: p.yMinor, ticks: "outside", ticklen: 7, tickcolor: "#777"},
            showline: true, linecolor: "#555", linewidth: 1.5, tickfont: axisFont,
            title: {text: "Number", font: axisFont, standoff: 0}});

    function curve(rows, extra)
    {
        traces.push(Object.assign({type: "scatter", mode: "lines", x: firstOf(rows), y: secondOf(rows), xaxis: ax.x, yaxis: ax.y, cliponaxis: false, hoverinfo: "skip"}, extra));
    }

    var smoothLine = {color: "#222", width: 1.2, shape: "spline", smoothing: 0.5};
    curve(p.raw, {line: {color: "#555", width: 1}});
    curve(p.fit, {line: {color: "#444", width: 1.1, shape: "spline", smoothing: 0.5}});
    curve(p.g1, {line: smoothLine, fill: "tozeroy", fillcolor: "#ff0000"});
    if (p.g2.length) curve(p.g2, {line: smoothLine, fill: "tozeroy", fillcolor: "#ff0000"});
    curve(p.s, {line: smoothLine, fill: "tozeroy", fillcolor: "rgba(0,0,0,0)",
        fillpattern: {shape: "/", fgcolor: "#4a3cc8", fgopacity: 0.85, bgcolor: "rgba(0,0,0,0)", size: 8, solidity: 0.22}});

    if (p.marks)
    {
        traces.push({type: "scatter", mode: "markers", x: firstOf(p.marks), y: secondOf(p.marks), xaxis: ax.x, yaxis: ax.y, cliponaxis: false, hoverinfo: "skip",
            marker: {symbol: "triangle-up", size: 11, color: "#000"}});
    }

    // figure texts and the small software legend
    label(p.title, p.titlePos[0], p.titlePos[1], 38);
    label(p.g1Text, p.statsX - 2, p.statsY[0], 29, {anchor: "left"});
    label(p.sText, p.statsX - 2, p.statsY[1], 29, {anchor: "left"});
    label(p.g2Text, p.statsX - 2, p.statsY[2], 29, {anchor: "left"});
    legendNames.forEach(function (name, i)
    {
        var top = p.legend[1] + i * 15.5;
        shapes.push({type: "rect", xref: "paper", yref: "paper", x0: p.legend[0] / W, x1: (p.legend[0] + 11) / W, y0: 1 - top / H, y1: 1 - (top + 12.5) / H,
            line: {color: "#888", width: 1}, fillcolor: i < 2 ? "#ff0000" : "#fff"});
        if (i == 2)
        {
            shapes.push({type: "line", xref: "paper", yref: "paper", x0: p.legend[0] / W, x1: (p.legend[0] + 7) / W, y0: 1 - (top + 9) / H, y1: 1 - (top + 1) / H, line: {color: "#4a3cc8", width: 1}});
            shapes.push({type: "line", xref: "paper", yref: "paper", x0: (p.legend[0] + 4) / W, x1: (p.legend[0] + 11) / W, y0: 1 - (top + 12) / H, y1: 1 - (top + 4) / H, line: {color: "#4a3cc8", width: 1}});
        }
        label(name, p.legend[0] + 16, top + 6, 12, {anchor: "left", plain: true, family: SANS, color: "#3030ff"});
    });
}

function barChart(p)
{
    var tickFont = {family: SERIF, size: 22, color: "#111", weight: 700};
    var ax = newAxes(p.box[0], p.box[1], p.box[2], p.box[3],
        {range: [-0.498, 2.509], tickvals: phasePositions, ticktext: phaseNames, ticks: "outside", ticklen: 9, tickwidth: 2, tickcolor: "#000",
            showline: true, linecolor: "#000", linewidth: 2, tickfont: tickFont},
        {range: [0, p.yMax], tick0: 0, dtick: p.yDtick, tickmode: "linear", ticks: "outside", ticklen: 9, tickwidth: 2, tickcolor: "#000",
            showline: true, linecolor: "#000", linewidth: 2, tickfont: tickFont});

    var colors = ["#d3d3d3", "#808080", "#000000"];
    var barUnit = (1 - BAR_GAP) / 3;
    [p.control, p.pyr32, p.pyr100].forEach(function (values, i)
    {
        traces.push({type: "bar", name: groupNames[i], x: phasePositions, y: values, xaxis: ax.x, yaxis: ax.y, hoverinfo: "skip", offsetgroup: i,
            marker: {color: colors[i], line: i == 2 ? {color: "#000", width: 2} : {width: 0}},
            error_y: {type: "data", symmetric: false, array: p.errs[i], arrayminus: p.errs[i].map(function (e) { return e * 0.6; }), color: "#000", thickness: 3, width: 0}});
        // only the top of each error bar has a cap in the figure
        traces.push({type: "scatter", mode: "markers", xaxis: ax.x, yaxis: ax.y, hoverinfo: "skip",
            x: phasePositions.map(function (v) { return v + (i - 1) * barUnit; }),
            y: values.map(function (v, j) { return v + p.errs[i][j]; }),
            marker: {symbol: "line-ew", size: 17, line: {color: "#000", width: 3.5}}});
    });
    traces.push({type: "scatter", mode: "text", x: p.starsX, y: p.starsY, text: p.starsText, xaxis: ax.x, yaxis: ax.y, hoverinfo: "skip", cliponaxis: false,
        textposition: "middle center", textfont: {family: SERIF, size: 24, color: "#222", weight: 700}});

    label(percentTitle, 1332, p.titleY, 30, {angle: -90});
    groupNames.forEach(function (name, i)
    {
        var top = p.legendTops[i];
        shapes.push({type: "rect", xref: "paper", yref: "paper", x0: p.legendX / W, x1: (p.legendX + 28) / W, y0: 1 - top / H, y1: 1 - (top + 21) / H, fillcolor: colors[i], line: {width: 0}});
        label(name, p.legendX + 39, top + 10, 20, {anchor: "left"});
    });
}

// bring a crop reading to panel units: subtract the crop origin of that panel
function field(rows, ox, oy)
{
    return {x: rows.map(function (r) { return r[0] - ox; }), y: rows.map(function (r) { return r[1] - oy; }),
        c: rows.map(function (r) { return r.length > 2 ? r[2] : 1; })};
}

function micrograph(box, bg, layers)
{
    var ax = newAxes(box[0], box[1], box[2], box[3],
        {range: [0, 700], visible: false}, {range: [700, 0], visible: false});
    shapes.push({type: "rect", layer: "below", xref: "paper", yref: "paper", x0: box[0] / W, x1: box[1] / W, y0: 1 - box[2] / H, y1: 1 - box[3] / H, fillcolor: bg, line: {color: "#bbb", width: 1}});
    layers.forEach(function (l)
    {
        // the soft edge stands in for the blur of the micrographs
        traces.push({type: "scatter", mode: "markers", x: l.data.x, y: l.data.y, xaxis: ax.x, yaxis: ax.y, hoverinfo: "skip",
            marker: {size: l.size, color: l.data.c, colorscale: l.scale, cmin: 0, cmax: 1, opacity: l.opacity,
                line: {width: 2, color: l.data.c, colorscale: l.halo, cmin: 0, cmax: 1}}});
    });
}

var GREEN = [[0, "#000000"], [1, "#10d01e"]];
var GREEN_HALO = [[0, "rgba(0,0,0,0)"], [1, "rgba(16,208,30,0.35)"]];
var TEAL = [[0, "#0b2fc8"], [0.5, "#0d70b0"], [1, "#14b4a0"]];
var TEAL_HALO = [[0, "rgba(11,47,200,0.3)"], [1, "rgba(20,180,160,0.3)"]];
var NAVY = "#00001c";

function fieldGrid(xCols, rows, rowData, eduSize, hoechstSize, blue, hoechstX)
{
    var blueScale = [[0, blue], [1, blue]];
    var blueHalo = [[0, blue + "44"], [1, blue + "44"]];
    rows.forEach(function (r, i)
    {
        var edu = field(rowData[i].edu, rowData[i].eduOx, rowData[i].oy);
        var hoechst = field(rowData[i].hoechst, hoechstX[i], rowData[i].oy);
        micrograph([xCols[0][0], xCols[0][1], r[0], r[1]], "#000", [{data: edu, size: eduSize, scale: GREEN, halo: GREEN_HALO, opacity: 0.9}]);
        micrograph([xCols[1][0] + (rowData[i].dx || 0), xCols[1][1], r[0], r[1]], NAVY, [{data: hoechst, size: hoechstSize, scale: blueScale, halo: blueHalo, opacity: 0.85}]);
        micrograph([xCols[2][0], xCols[2][1], r[0], r[1]], NAVY, [{data: hoechst, size: hoechstSize, scale: blueScale, halo: blueHalo, opacity: 0.85}, {data: edu, size: eduSize, scale: TEAL, halo: TEAL_HALO, opacity: 0.8}]);
    });
}

// ---- A and B ----
var histograms = [
    {box: [105, 416, 90.5, 442], xMax: 120, yMax: 800, yMajor: 200, yMinor: 50, g1: a1G1, g2: a1G2, s: a1S, fit: a1Fit, raw: a1Raw, marks: peakMarksA1, titlePos: [255, 21], statsX: 238, statsY: [165.5, 199.5, 235], legend: [355, 57]},
    {box: [485, 799, 88, 447], xMax: 120, yMax: 700, yMajor: 100, yMinor: 20, g1: a2G1, g2: a2G2, s: a2S, fit: a2Fit, raw: a2Raw, marks: peakMarksA2, titlePos: [656, 22], statsX: 630, statsY: [165, 199, 235], legend: [737, 52]},
    {box: [869, 1179, 92, 444], xMax: 100, yMax: 200, yMajor: 50, yMinor: 10, g1: a3G1, g2: a3G2, s: a3S, fit: a3Fit, raw: a3Raw, marks: peakMarksA3, titlePos: [1040, 22], statsX: 1001, statsY: [165, 199, 235], legend: [1119, 56]},
    {box: [107, 420, 677, 1029], xMax: 100, yMax: 400, yMajor: 100, yMinor: 20, g1: b1G1, g2: b1G2, s: b1S, fit: b1Fit, raw: b1Raw, titlePos: [262, 604], statsX: 262, statsY: [747, 782, 817], legend: [358, 642]},
    {box: [487, 800, 679, 1029], xMax: 100, yMax: 500, yMajor: 100, yMinor: 20, g1: b2G1, g2: b2G2, s: b2S, fit: b2Fit, raw: b2Raw, titlePos: [663, 605], statsX: 612, statsY: [747, 781, 817], legend: [739, 644]},
    {box: [867.5, 1181, 674, 1029], xMax: 100, yMax: 481, yMajor: 100, yMinor: 20, g1: b3G1, g2: b3G2, s: b3S, fit: b3Fit, raw: b3Raw, titlePos: [1048, 605], statsX: 1001, statsY: [747, 781, 817], legend: [1120, 641]}
];
histograms.forEach(function (p, i)
{
    p.title = histTitles[i];
    p.g1Text = statsG1[i];
    p.sText = statsS[i];
    p.g2Text = statsG2[i];
    histogram(p);
});

// ---- C and D ----
barChart({box: [1387, 1735, 146, 453], yMax: 80, yDtick: 20, control: cControl, pyr32: cPyr32, pyr100: cPyr100, titleY: 303,
    errs: [cControlErr, cPyr32Err, cPyr100Err], starsX: cStarsX, starsY: cStarsY, starsText: cStarsText, legendX: 1399, legendTops: [60, 95, 131]});
barChart({box: [1387, 1735, 736, 1042.7], yMax: 50, yDtick: 10, control: dControl, pyr32: dPyr32, pyr100: dPyr100, titleY: 891,
    errs: [dControlErr, dPyr32Err, dPyr100Err], starsX: dStarsX, starsY: dStarsY, starsText: dStarsText, legendX: 1400, legendTops: [649, 685, 720]});

// ---- E and F ----
fieldGrid([[131, 365], [367, 601], [603, 837]], [[1224, 1458], [1467, 1700], [1709, 1942]], [
    {edu: eEdu1, eduOx: 3, hoechst: eHoechst1, oy: 1},
    {edu: eEdu2, eduOx: 3, hoechst: eHoechst2, oy: 728},
    {edu: eEdu3, eduOx: 3, hoechst: eHoechst3, oy: 27}
], 7, 7.5, "#0a12c8", [708, 708, 708]);
fieldGrid([[1063, 1298], [1301, 1534], [1541, 1773]], [[1225, 1459], [1465, 1699], [1709, 1942]], [
    {edu: fEdu1, eduOx: 4, hoechst: fHoechst1, oy: 3},
    {edu: fEdu2, eduOx: 4, hoechst: fHoechst2, oy: 724, dx: 2},
    {edu: fEdu3, eduOx: 4, hoechst: fHoechst3, oy: 27}
], 7, 5.5, "#0a12b0", [716, 724, 716]);

channelNames.forEach(function (name, i)
{
    label(name, [251, 487, 723][i], 1197, 38);
    label(name, [1186, 1422, 1658][i], 1196, 38);
});
rowNames.forEach(function (name, i)
{
    label(name, [128, 126, 127][i], [1342, 1585, 1828][i], 38, {anchor: "right"});
    label(name, [1062, 1059, 1059][i], [1353, 1597, 1839][i], 38, {anchor: "right"});
});

var panelLetters = ["A", "B", "C", "D", "E", "F"];
var panelLetterX = [10, 10, 1311, 1311, 10, 987];
var panelLetterY = [15, 594, 15, 594, 1182, 1181];
panelLetters.forEach(function (letter, i)
{
    label(letter, panelLetterX[i], panelLetterY[i], 28, {family: SANS});
});

layout.shapes = shapes;
layout.annotations = annotations;
Plotly.newPlot("chart", traces, layout, {displayModeBar: false, staticPlot: true});
</script>
</body>
</html>
